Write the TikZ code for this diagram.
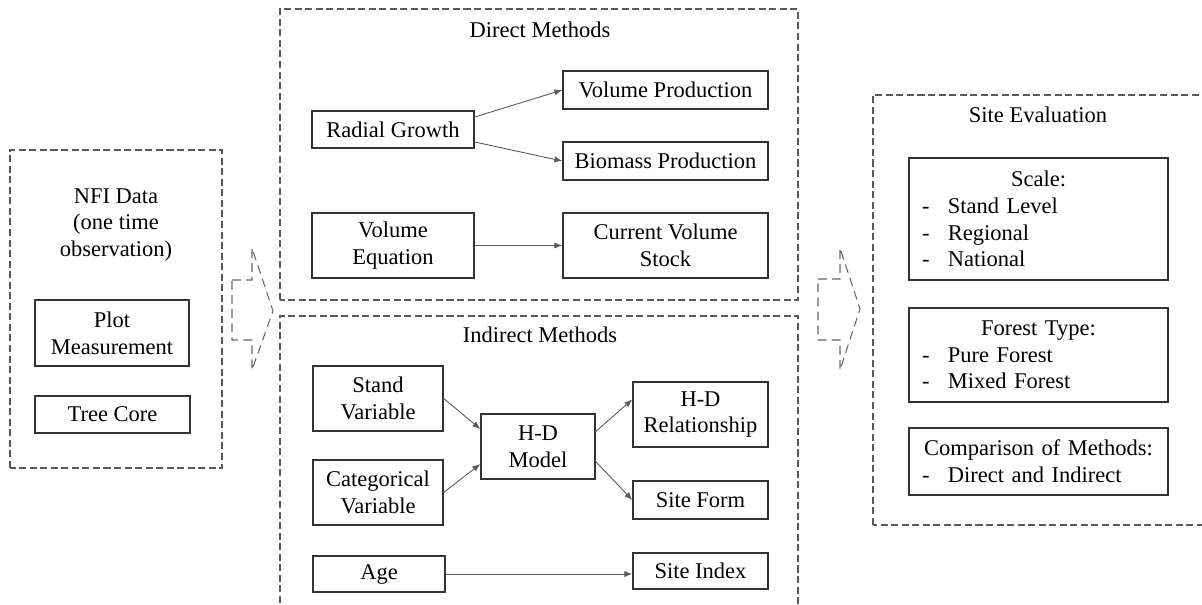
\documentclass[tikz,border=0pt]{standalone}
\usepackage{fontspec}
\setmainfont{Liberation Serif}
\usetikzlibrary{arrows.meta, calc}
\newcommand{\seline}[1]{\makebox[\linewidth][l]{\makebox[0.59cm][l]{\hspace{0.07cm}-}#1}}

\begin{document}
\begin{tikzpicture}[
      >=Stealth,
      panel/.style={draw=black!65, dash pattern=on 4pt off 2pt, line width=0.6pt},
      box/.style={draw=black!80, line width=0.8pt, align=center, inner sep=1pt, text=black},
      lbox/.style={box, text width=4.8cm, inner xsep=0.19cm, minimum width=5.18cm},
      ttl/.style={align=center, inner sep=1pt, text=black},
      arr/.style={-{Latex[length=4.5pt,width=3.5pt]}, black!65, line width=0.5pt},
      blk/.style={draw=black!60, dash pattern=on 5pt off 3pt, line width=0.6pt, line join=miter},
      font=\fontsize{12.8}{15.2}\selectfont
    ]
    \useasboundingbox (0,0) rectangle (24.04,12.08);

    % --- NFI data ---
    \draw[panel] (0.2,2.72) rectangle (4.44,9.08);
    \node[ttl] (nfi) at (2.32,7.58) {NFI Data\\(one time\\observation)};
    \node[box, minimum width=3.08cm, minimum height=1.32cm] (plot) at (2.24,5.42) {Plot\\Measurement};
    \node[box, minimum width=3.1cm, minimum height=0.74cm] (core) at (2.25,3.79) {Tree Core};

    % --- Block arrow to methods ---
    \draw[blk] (4.64,6.48) -- (5.04,6.48) -- (5.04,7.12) -- (5.46,5.86)
      -- (5.04,4.68) -- (5.04,5.28) -- (4.64,5.28) -- cycle;

    % --- Direct methods ---
    \draw[panel] (5.6,6.08) rectangle (15.96,11.9);
    \node[ttl] (dm) at (10.8,11.48) {Direct Methods};
    \node[box, minimum width=3.24cm, minimum height=0.74cm] (rg)  at (7.86,9.49)  {Radial Growth};
    \node[box, minimum width=4.1cm,  minimum height=0.76cm] (vp)  at (13.31,10.28) {Volume Production};
    \node[box, minimum width=4.1cm,  minimum height=0.76cm] (bp)  at (13.31,8.86)  {Biomass Production};
    \node[box, minimum width=3.24cm, minimum height=1.3cm]  (ve)  at (7.86,7.17)  {Volume\\Equation};
    \node[box, minimum width=4.1cm,  minimum height=1.3cm]  (cvs) at (13.31,7.17) {Current Volume\\Stock};

    % --- Indirect methods ---
    \draw[panel] (5.6,-0.4) rectangle (15.96,5.76);
    \node[ttl] (im) at (10.8,5.38) {Indirect Methods};
    \node[box, minimum width=2.6cm,  minimum height=1.3cm]  (sv)  at (7.56,4.11)  {Stand\\Variable};
    \node[box, minimum width=2.6cm,  minimum height=1.3cm]  (cv)  at (7.56,2.23)  {Categorical\\Variable};
    \node[box, minimum width=2.28cm, minimum height=1.3cm]  (hd)  at (10.76,3.15) {H-D\\Model};
    \node[box, minimum width=2.7cm,  minimum height=1.3cm]  (hdr) at (14.01,3.79) {H-D\\Relationship};
    \node[box, minimum width=2.7cm,  minimum height=0.76cm] (sf)  at (14.01,2.08) {Site Form};
    \node[box, minimum width=2.64cm, minimum height=0.72cm] (age) at (7.58,0.6)   {Age};
    \node[box, minimum width=2.7cm,  minimum height=0.72cm] (si)  at (14.01,0.66) {Site Index};

    % --- Block arrow to evaluation ---
    \draw[blk] (16.36,6.5) -- (16.8,6.5) -- (16.8,7.12) -- (17.2,5.9)
      -- (16.8,4.68) -- (16.8,5.28) -- (16.36,5.28) -- cycle;

    % --- Site evaluation ---
    \draw[panel] (17.46,1.58) rectangle (24.4,10.18);
    \node[ttl] (se) at (20.76,9.78) {Site Evaluation};
    \node[lbox, minimum height=2.44cm] (scale) at (20.77,7.7)
      {Scale:\\\seline{Stand Level}\\\seline{Regional}\\\seline{National}};
    \node[lbox, minimum height=1.88cm] (ftype) at (20.77,4.98)
      {Forest Type:\\\seline{Pure Forest}\\\seline{Mixed Forest}};
    \node[lbox, minimum height=1.34cm] (comp) at (20.77,2.85)
      {Comparison of Methods:\\\seline{Direct and Indirect}};

    % --- Arrows ---
    \draw[arr] ([yshift=0.25cm]rg.east) -- (vp.west);
    \draw[arr] ([yshift=-0.25cm]rg.east) -- (bp.west);
    \draw[arr] (ve.east) -- (cvs.west);
    \draw[arr] (sv.east) -- ([yshift=0.35cm]hd.west);
    \draw[arr] (cv.east) -- ([yshift=-0.35cm]hd.west);
    \draw[arr] ([yshift=0.3cm]hd.east) -- ([yshift=0.3cm]hdr.west);
    \draw[arr] ([yshift=-0.3cm]hd.east) -- (sf.west);
    \draw[arr] (age.east) -- (age.east -| si.west);

  \end{tikzpicture}
\end{document}
